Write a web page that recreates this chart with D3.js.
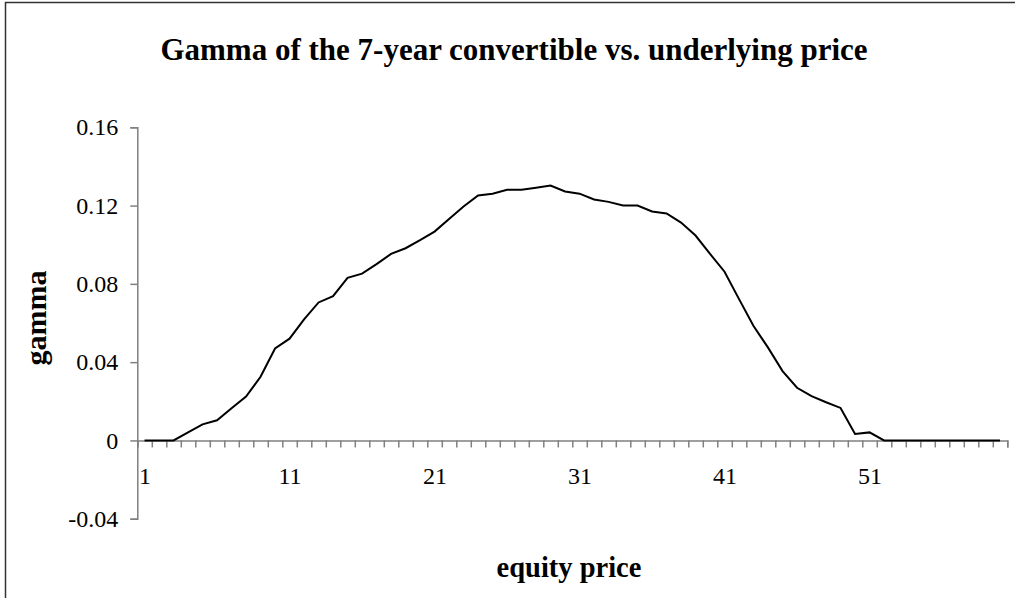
<!DOCTYPE html>
<html>
<head>
<meta charset="utf-8">
<script src="https://cdn.jsdelivr.net/npm/d3@7"></script>
<style>
  body { margin: 0; background: #fff; }
  text { font-family: "Liberation Serif", "Times New Roman", serif; fill: #000; }
</style>
</head>
<body>
<svg id="chart" width="1015" height="598"></svg>
<script>
// equity price categories 1..60
const categories = d3.range(1, 61);
// gamma, one per category
const gamma = [
  0, 0, 0, 0.0041, 0.0082, 0.0103, 0.0164, 0.0224, 0.0325, 0.047,
  0.052, 0.0619, 0.0705, 0.0737, 0.0831, 0.0852, 0.0901, 0.0953, 0.0982, 0.1023,
  0.1067, 0.1132, 0.1195, 0.1252, 0.1261, 0.1281, 0.1281, 0.1291, 0.1302, 0.1272,
  0.1261, 0.1231, 0.1219, 0.12, 0.12, 0.117, 0.116, 0.1113, 0.1047, 0.0953,
  0.0862, 0.0722, 0.0585, 0.0474, 0.0354, 0.0269, 0.0226, 0.0195, 0.0166, 0.0033,
  0.0041, 0, 0, 0, 0, 0, 0, 0, 0, 0
];
const yTicks = [-0.04, 0, 0.04, 0.08, 0.12, 0.16];
const xLabels = [1, 11, 21, 31, 41, 51];

const svg = d3.select("#chart");

// outer chart border (only top and left show in the frame)
svg.append("rect")
  .attr("x", 5.5).attr("y", 2.5)
  .attr("width", 1100).attr("height", 700)
  .attr("fill", "none")
  .attr("stroke", "#333")
  .attr("stroke-width", 1.5);

const left = 137.3, right = 1007.3;
const x = d3.scaleLinear().domain([0.5, 60.5]).range([left, right]);
const y = d3.scaleLinear().domain([-0.04, 0.16]).range([518.7, 127.3]);

// y axis, hyphen minus like the original
const yFmt = d => d === 0 ? "0" : d3.format(".2f")(d).replace("\u2212", "-");
const yAxis = svg.append("g")
  .attr("transform", `translate(${left},0)`)
  .call(d3.axisLeft(y).tickValues(yTicks).tickSize(7).tickPadding(12).tickFormat(yFmt));
yAxis.select(".domain").attr("stroke", "#808080").attr("stroke-width", 1.5);
yAxis.selectAll(".tick line").attr("stroke", "#808080").attr("stroke-width", 1.5);
yAxis.selectAll("text").attr("font-size", 24).attr("fill", "#000");

// x axis line with tick marks at the category boundaries
const xAxis = svg.append("g")
  .attr("transform", `translate(0,${y(0)})`)
  .call(d3.axisBottom(x).tickValues(d3.range(0.5, 61, 1)).tickSize(7).tickFormat(""));
xAxis.select(".domain").attr("stroke", "#808080").attr("stroke-width", 1.5);
xAxis.selectAll(".tick line").attr("stroke", "#808080").attr("stroke-width", 1.5);

// category labels every 10
svg.append("g")
  .attr("transform", `translate(0,${y(0)})`)
  .call(d3.axisBottom(x).tickValues(xLabels).tickSize(0).tickPadding(0))
  .call(g => g.select(".domain").remove())
  .selectAll("text")
  .attr("font-size", 24)
  .attr("fill", "#000")
  .attr("dy", null)
  .attr("y", 44);

// the gamma line
const line = d3.line()
  .x((d, i) => x(categories[i]))
  .y(d => y(d));

svg.append("path")
  .datum(gamma)
  .attr("d", line)
  .attr("fill", "none")
  .attr("stroke", "#000")
  .attr("stroke-width", 2);

// title and axis titles
svg.append("text")
  .attr("x", 514).attr("y", 60)
  .attr("text-anchor", "middle")
  .attr("font-size", 31)
  .attr("font-weight", "bold")
  .text("Gamma of the 7-year convertible vs. underlying price");

svg.append("text")
  .attr("transform", "translate(46,318) rotate(-90)")
  .attr("text-anchor", "middle")
  .attr("font-size", 30)
  .attr("font-weight", "bold")
  .text("gamma");

svg.append("text")
  .attr("x", 569).attr("y", 577)
  .attr("text-anchor", "middle")
  .attr("font-size", 28.5)
  .attr("font-weight", "bold")
  .text("equity price");
</script>
</body>
</html>
